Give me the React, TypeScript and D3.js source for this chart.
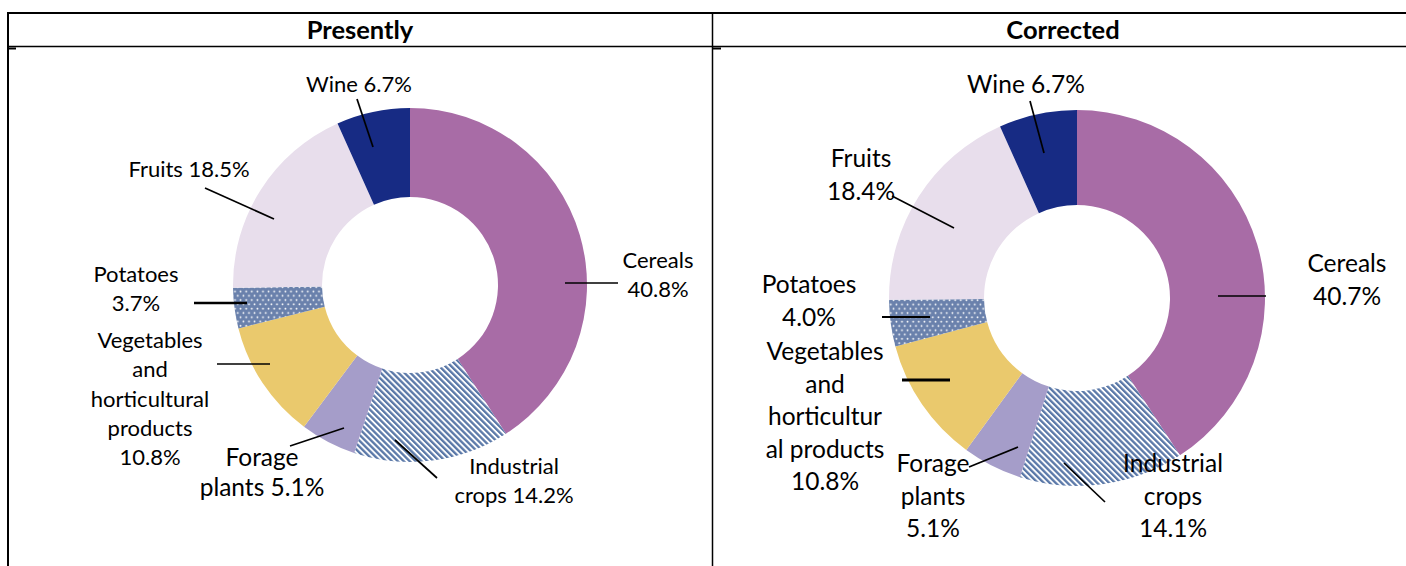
import * as d3 from 'd3';
import React from 'react';

// slice order, clockwise from 12 o'clock
const categories = [
  'Cereals',
  'Industrial crops',
  'Forage plants',
  'Vegetables and horticultural products',
  'Potatoes',
  'Fruits',
  'Wine',
];
const presentlyValues = [40.8, 14.2, 5.1, 10.8, 3.7, 18.5, 6.7];
const correctedValues = [40.7, 14.1, 5.1, 10.8, 4.0, 18.4, 6.7];

// label text, {v} is replaced by the value
const presentlyLabelLines = [
  ['Cereals', '{v}'],
  ['Industrial', 'crops {v}'],
  ['Forage', 'plants {v}'],
  ['Vegetables', 'and', 'horticultural', 'products', '{v}'],
  ['Potatoes', '{v}'],
  ['Fruits {v}'],
  ['Wine {v}'],
];
const correctedLabelLines = [
  ['Cereals', '{v}'],
  ['Industrial', 'crops', '{v}'],
  ['Forage', 'plants', '{v}'],
  ['Vegetables', 'and', 'horticultur', 'al products', '{v}'],
  ['Potatoes', '{v}'],
  ['Fruits', '{v}'],
  ['Wine {v}'],
];

const fills = [
  '#A86CA6',
  'url(#stripes)',
  '#A59DC9',
  '#EAC96D',
  'url(#dots)',
  '#E8DEEC',
  '#172B84',
];

// label placement relative to the doughnut centre: text x, first baseline, leader x1,y1,x2,y2, leader width
type Place = {
  tx: number;
  ty: number;
  ln: [number, number, number, number];
  lw: number;
  fs?: number;
  gap?: number;
};
const presentlyPlaces: Place[] = [
  { tx: 248, ty: -17, ln: [155, -2, 208, -2], lw: 1.7 },
  { tx: 104, ty: 189, ln: [-15, 155, 27, 193], lw: 1.7 },
  { tx: -148, ty: 181, ln: [-120, 161, -66, 143], lw: 1.7, fs: 24.5, gap: 29.5 },
  { tx: -260, ty: 63, ln: [-193, 79, -140, 79], lw: 1.7 },
  { tx: -274, ty: -3, ln: [-216, 18, -163, 18], lw: 2.6 },
  { tx: -221, ty: -108, ln: [-205, -97, -136, -66], lw: 1.7 },
  { tx: -51, ty: -193, ln: [-53, -186, -37, -138], lw: 1.7 },
];
const correctedPlaces: Place[] = [
  { tx: 270, ty: -26, ln: [141, -2, 189, -2], lw: 1.7 },
  { tx: 96, ty: 174, ln: [-13, 165, 28, 204], lw: 1.7 },
  { tx: -144, ty: 174, ln: [-108, 169, -59, 149], lw: 1.7 },
  { tx: -252, ty: 62, ln: [-175, 82, -127, 82], lw: 2.8 },
  { tx: -268, ty: -5, ln: [-195, 19, -147, 19], lw: 2.2 },
  { tx: -216, ty: -131, ln: [-185, -102, -123, -70], lw: 1.7 },
  { tx: -51, ty: -205, ln: [-47, -197, -33, -145], lw: 1.7 },
];

const fmt = (v: number) => d3.format('.1f')(v) + '%';
const font = 'Lato, "Open Sans", sans-serif';

interface DonutProps {
  cx: number;
  cy: number;
  outer: number;
  inner: number;
  values: number[];
  labelLines: string[][];
  places: Place[];
  fontSize: number;
  lineGap: number;
}

const Donut: React.FC<DonutProps> = ({ cx, cy, outer, inner, values, labelLines, places, fontSize, lineGap }) => {
  const pie = d3.pie<number>().sort(null).value((d) => d);
  const arc = d3.arc<d3.PieArcDatum<number>>().innerRadius(inner).outerRadius(outer);
  const arcs = pie(values);
  return (
    <g transform={`translate(${cx},${cy})`}>
      {arcs.map((a, i) => (
        <path key={categories[i]} d={arc(a) || ''} fill={fills[i]} />
      ))}
      {places.map((p, i) => (
        <line
          key={'l' + i}
          x1={p.ln[0]}
          y1={p.ln[1]}
          x2={p.ln[2]}
          y2={p.ln[3]}
          stroke="#000"
          strokeWidth={p.lw}
        />
      ))}
      {labelLines.map((lines, i) => (
        <text
          key={'t' + i}
          x={places[i].tx}
          y={places[i].ty}
          textAnchor="middle"
          fontFamily={font}
          fontSize={places[i].fs ?? fontSize}
          fill="#000"
        >
          {lines.map((s, j) => (
            <tspan key={j} x={places[i].tx} dy={j === 0 ? 0 : places[i].gap ?? lineGap}>
              {s.replace('{v}', fmt(values[i]))}
            </tspan>
          ))}
        </text>
      ))}
    </g>
  );
};

export default function App() {
  return (
    <div style={{ position: 'absolute', left: 0, top: 0 }}>
      <svg width={1406} height={566} style={{ display: 'block', background: '#fff' }}>
        <defs>
          <pattern id="stripes" width={4.2} height={4.2} patternUnits="userSpaceOnUse" patternTransform="rotate(-45)">
            <rect width={4.2} height={4.2} fill="#fff" />
            <rect width={2.3} height={4.2} fill="#5A78A8" />
          </pattern>
          <pattern id="dots" width={5.6} height={8.6} patternUnits="userSpaceOnUse">
            <rect width={5.6} height={8.6} fill="#6A81AC" />
            <circle cx={1.4} cy={2.1} r={0.9} fill="#fff" />
            <circle cx={4.2} cy={6.4} r={0.9} fill="#fff" />
          </pattern>
        </defs>

        {/* table frame */}
        <line x1={8} x2={1406} y1={13} y2={13} stroke="#000" strokeWidth={2} />
        <line x1={8} x2={1406} y1={46.5} y2={46.5} stroke="#000" strokeWidth={1.5} />
        <line x1={8} x2={8} y1={12} y2={566} stroke="#000" strokeWidth={2} />
        <line x1={712.5} x2={712.5} y1={12} y2={566} stroke="#000" strokeWidth={1.5} />
        <line x1={8} x2={16} y1={48.5} y2={48.5} stroke="#000" strokeWidth={2} />
        <line x1={712} x2={721} y1={48.5} y2={48.5} stroke="#000" strokeWidth={2} />

        <text x={360} y={39} textAnchor="middle" fontFamily={font} fontWeight="bold" fontSize={25.5}>
          Presently
        </text>
        <text x={1063} y={39} textAnchor="middle" fontFamily={font} fontWeight="bold" fontSize={25.5}>
          Corrected
        </text>

        <Donut
          cx={410}
          cy={285}
          outer={177}
          inner={88}
          values={presentlyValues}
          labelLines={presentlyLabelLines}
          places={presentlyPlaces}
          fontSize={22}
          lineGap={29.3}
        />
        <Donut
          cx={1077}
          cy={298}
          outer={188}
          inner={93}
          values={correctedValues}
          labelLines={correctedLabelLines}
          places={correctedPlaces}
          fontSize={24.5}
          lineGap={32.5}
        />
      </svg>
    </div>
  );
}
